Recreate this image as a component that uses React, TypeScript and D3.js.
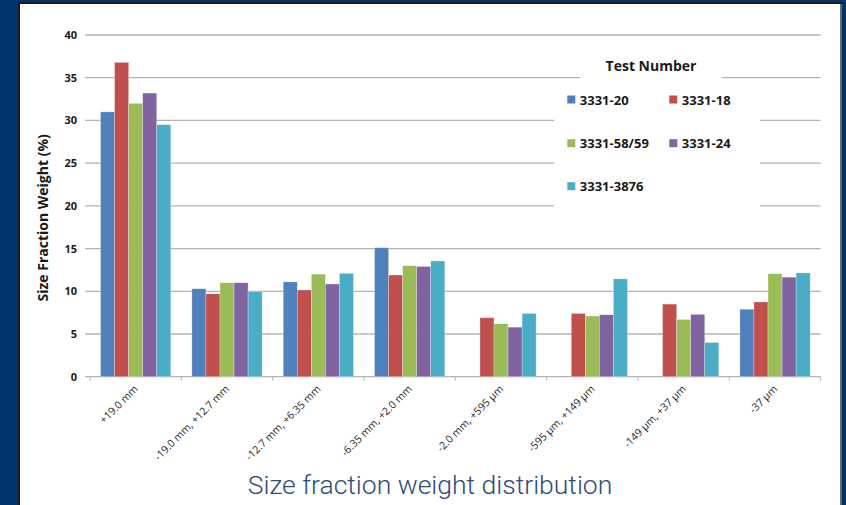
import React from "react";
import * as d3 from "d3";

const categories = [
  "+19.0 mm",
  "-19.0 mm, +12.7 mm",
  "-12.7 mm, +6.35 mm",
  "-6.35 mm, +2.0 mm",
  "-2.0 mm, +595 µm",
  "-595 µm, +149 µm",
  "-149 µm, +37 µm",
  "-37 µm",
];
const seriesNames = ["3331-20", "3331-18", "3331-58/59", "3331-24", "3331-3876"];
const s3331_20 = [31.0, 10.3, 11.1, 15.1, 0, 0, 0, 7.9];
const s3331_18 = [36.8, 9.7, 10.15, 11.9, 6.9, 7.4, 8.5, 8.75];
const s3331_5859 = [32.0, 11.0, 12.0, 13.0, 6.2, 7.1, 6.7, 12.05];
const s3331_24 = [33.2, 11.0, 10.85, 12.9, 5.8, 7.25, 7.3, 11.65];
const s3331_3876 = [29.5, 9.95, 12.1, 13.55, 7.4, 11.45, 4.0, 12.15];
const seriesValues = [s3331_20, s3331_18, s3331_5859, s3331_24, s3331_3876];
const colors = ["#4F81BD", "#C0504D", "#9BBB59", "#8064A2", "#4BACC6"];
const yTicks = [0, 5, 10, 15, 20, 25, 30, 35, 40];

export default function App() {
  const W = 846, H = 505;
  const left = 90, right = 820.7, top = 35, bottom = 376.7;
  const x0 = d3.scaleBand<string>().domain(categories).range([left, right]).padding(0);
  const x1 = d3
    .scaleBand<string>()
    .domain(seriesNames)
    .range([0, x0.bandwidth()])
    .paddingInner(0)
    .paddingOuter(0.75);
  const y = d3.scaleLinear().domain([0, 40]).range([bottom, top]);
  const font = "'Open Sans', 'DejaVu Sans', sans-serif";

  const legX = [567.3, 669.3];
  const legY = [100, 143.7, 186.7];

  return (
    <svg width={W} height={H} style={{ position: "absolute", left: 0, top: 0, display: "block" }}>
      <rect x={0} y={0} width={W} height={H} fill="#003470" />
      <rect x={18} y={2} width={824} height={H} fill="#1a1a1a" />
      <rect x={20} y={4} width={820} height={H} fill="#ffffff" />
      <rect x={840} y={4} width={2} height={H} fill="#6b6b6b" />

      {/* gridlines */}
      {yTicks.map((t) => (
        <line
          key={"g" + t}
          x1={left - 5}
          x2={right}
          y1={y(t)}
          y2={y(t)}
          stroke="#b3b3b3"
          strokeWidth={1.3}
        />
      ))}
      {/* category tick marks */}
      {d3.range(categories.length + 1).map((i) => {
        const xx = left + i * x0.step();
        return <line key={"ct" + i} x1={xx} x2={xx} y1={bottom} y2={bottom + 4} stroke="#b3b3b3" strokeWidth={1} />;
      })}

      {/* bars */}
      {categories.map((c, ci) => (
        <g key={c} transform={`translate(${x0(c)},0)`}>
          {seriesNames.map((s, si) => {
            const v = seriesValues[si][ci];
            if (!v) return null;
            return (
              <rect
                key={s}
                x={x1(s)}
                y={y(v)}
                width={x1.bandwidth()}
                height={y(0) - y(v)}
                fill={colors[si]}
                stroke="#ffffff"
                strokeOpacity={0.45}
                strokeWidth={0.6}
              />
            );
          })}
        </g>
      ))}

      {/* y tick labels */}
      {yTicks.map((t) => (
        <text
          key={"yl" + t}
          x={77}
          y={y(t)}
          dy="0.36em"
          textAnchor="end"
          fontFamily={font}
          fontWeight={700}
          fontSize={11}
          fill="#1a1a1a"
        >
          {t}
        </text>
      ))}

      {/* y axis title */}
      <text
        transform={`translate(48,${(top + bottom) / 2 + 12}) rotate(-90)`}
        textAnchor="middle"
        fontFamily={font}
        fontWeight={700}
        fontSize={14}
        fill="#1a1a1a"
      >
        Size Fraction Weight (%)
      </text>

      {/* x labels */}
      {categories.map((c) => {
        const cx = (x0(c) as number) + x0.bandwidth() / 2;
        return (
          <text
            key={"xl" + c}
            transform={`translate(${cx + 3},${bottom + 13}) rotate(-45)`}
            textAnchor="end"
            fontFamily={font}
            fontWeight={400}
            fontSize={10.5}
            fill="#1f1f1f"
          >
            {c}
          </text>
        );
      })}

      {/* legend */}
      <rect x={580} y={48} width={142} height={38} fill="#ffffff" />
      <rect x={554} y={86} width={206} height={128} fill="#ffffff" />
      <text
        x={651}
        y={71}
        textAnchor="middle"
        fontFamily={font}
        fontWeight={700}
        fontSize={14}
        fill="#1a1a1a"
      >
        Test Number
      </text>
      {seriesNames.map((s, i) => {
        const col = i % 2;
        const row = Math.floor(i / 2);
        const lx = legX[col];
        const ly = legY[row];
        return (
          <g key={"lg" + s}>
            <rect x={lx} y={ly - 4.5} width={8} height={8} fill={colors[i]} />
            <text
              x={lx + 12.5}
              y={ly}
              dy="0.36em"
              fontFamily={font}
              fontWeight={700}
              fontSize={13}
              fill="#1a1a1a"
            >
              {s}
            </text>
          </g>
        );
      })}

      {/* caption block */}
      <rect x={20} y={460} width={820} height={H - 460} fill="#ffffff" />
      <text
        x={430}
        y={494}
        textAnchor="middle"
        fontFamily="Roboto, 'Open Sans', sans-serif"
        fontWeight={300}
        fontSize={26.5}
        fill="#2e4a7d"
      >
        Size fraction weight distribution
      </text>
    </svg>
  );
}
